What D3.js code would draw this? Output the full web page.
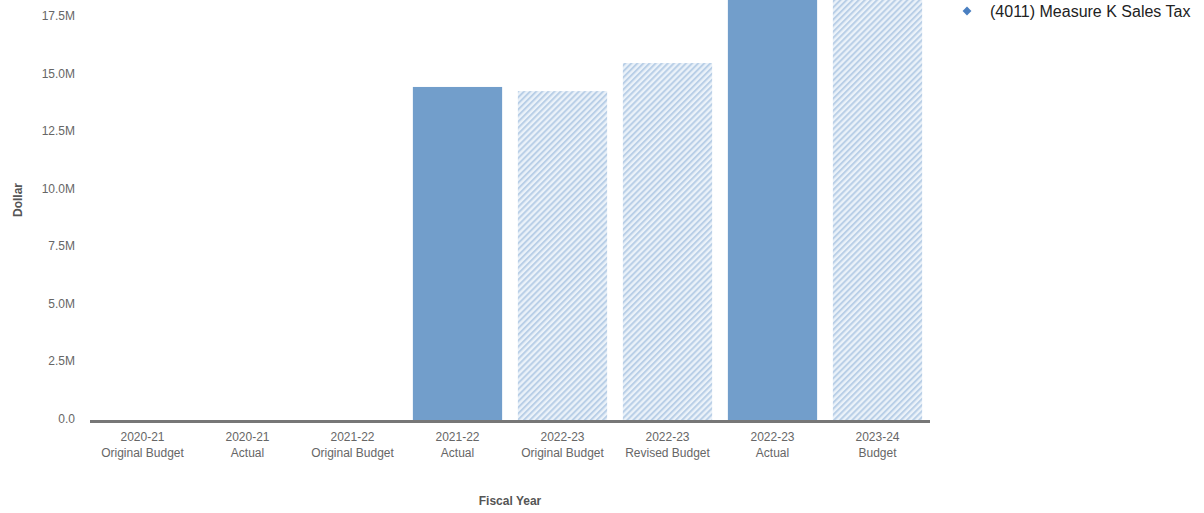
<!DOCTYPE html>
<html>
<head>
<meta charset="utf-8">
<script src="https://cdn.jsdelivr.net/npm/d3@7"></script>
<style>
  html, body { margin: 0; padding: 0; background: #fff; }
  svg { display: block; font-family: "Liberation Sans", Arial, sans-serif; }
</style>
</head>
<body>
<svg id="chart" width="1204" height="513"></svg>
<script>
// Fiscal-year categories (two-line labels)
const years = ["2020-21", "2020-21", "2021-22", "2021-22", "2022-23", "2022-23", "2022-23", "2023-24"];
const kinds = ["Original Budget", "Actual", "Original Budget", "Actual", "Original Budget", "Revised Budget", "Actual", "Budget"];
// Amounts in dollars
const values = [0, 0, 0, 14480000, 14300000, 15520000, 19800000, 19200000];
// Actuals are drawn solid, budgets hatched
const isActual = [false, true, false, true, false, false, true, false];
const yTicks = [0, 2500000, 5000000, 7500000, 10000000, 12500000, 15000000, 17500000];
const seriesName = "(4011) Measure K Sales Tax";

const svg = d3.select("#chart");
const x0 = 90, x1 = 930, yZero = 420;

const x = d3.scaleBand()
  .domain(d3.range(values.length))
  .range([x0, x1])
  .paddingInner(0.15)
  .paddingOuter(0.075);

const y = d3.scaleLinear()
  .domain([0, 17500000])
  .range([yZero, 17.5]);

// Diagonal hatch for budget bars
const defs = svg.append("defs");
const P = 4.3;
const pat = defs.append("pattern")
  .attr("id", "hatch")
  .attr("patternUnits", "userSpaceOnUse")
  .attr("width", P).attr("height", P)
  .attr("patternTransform", "rotate(45)");
pat.append("rect").attr("width", P).attr("height", P).attr("fill", "#ebf2f9");
pat.append("rect").attr("width", 2).attr("height", P).attr("fill", "#b9cfe7");

defs.append("clipPath").attr("id", "plotClip")
  .append("rect").attr("x", x0).attr("y", 0).attr("width", x1 - x0).attr("height", yZero);

// Y axis tick labels
const fmt = v => v === 0 ? "0.0" : (v / 1e6).toFixed(1) + "M";
const yAxis = d3.axisLeft(y).tickValues(yTicks).tickFormat(fmt).tickSize(0).tickPadding(0);
const gy = svg.append("g").attr("transform", "translate(75,0)").call(yAxis);
gy.select(".domain").remove();
gy.selectAll("text")
  .attr("font-size", 12)
  .attr("fill", "#666")
  .attr("dy", "0.32em")
  .attr("y", -1.5)
  .attr("font-family", "Liberation Sans, Arial, sans-serif");

// Bars
svg.append("g").attr("clip-path", "url(#plotClip)")
  .selectAll("rect")
  .data(values)
  .join("rect")
  .attr("x", (d, i) => x(i))
  .attr("width", x.bandwidth())
  .attr("y", d => y(d))
  .attr("height", d => yZero - y(d))
  .attr("fill", (d, i) => isActual[i] ? "#729ecb" : "url(#hatch)");

// Baseline
svg.append("line")
  .attr("x1", x0).attr("x2", x1)
  .attr("y1", yZero + 1.5).attr("y2", yZero + 1.5)
  .attr("stroke", "#777").attr("stroke-width", 3);

// X axis labels
const gx = svg.append("g");
const lbl = gx.selectAll("text")
  .data(values)
  .join("text")
  .attr("text-anchor", "middle")
  .attr("font-size", 12)
  .attr("fill", "#666")
  .attr("transform", (d, i) => `translate(${x(i) + x.bandwidth() / 2},0)`);
lbl.append("tspan").attr("x", 0).attr("y", 441).text((d, i) => years[i]);
lbl.append("tspan").attr("x", 0).attr("y", 457).text((d, i) => kinds[i]);

// Axis titles
svg.append("text")
  .attr("x", 510).attr("y", 505)
  .attr("text-anchor", "middle")
  .attr("font-size", 12).attr("font-weight", "bold").attr("fill", "#555")
  .text("Fiscal Year");

svg.append("text")
  .attr("transform", "translate(22,200) rotate(-90)")
  .attr("text-anchor", "middle")
  .attr("font-size", 12).attr("font-weight", "bold").attr("fill", "#555")
  .text("Dollar");

// Legend
const lg = svg.append("g").attr("transform", "translate(967,11)");
lg.append("path")
  .attr("d", d3.symbol(d3.symbolDiamond2, 50)())
  .attr("fill", "#4a7fc1");
lg.append("text")
  .attr("x", 23).attr("y", 0).attr("dy", "0.35em")
  .attr("font-size", 16).attr("fill", "#222")
  .text(seriesName);
</script>
</body>
</html>
